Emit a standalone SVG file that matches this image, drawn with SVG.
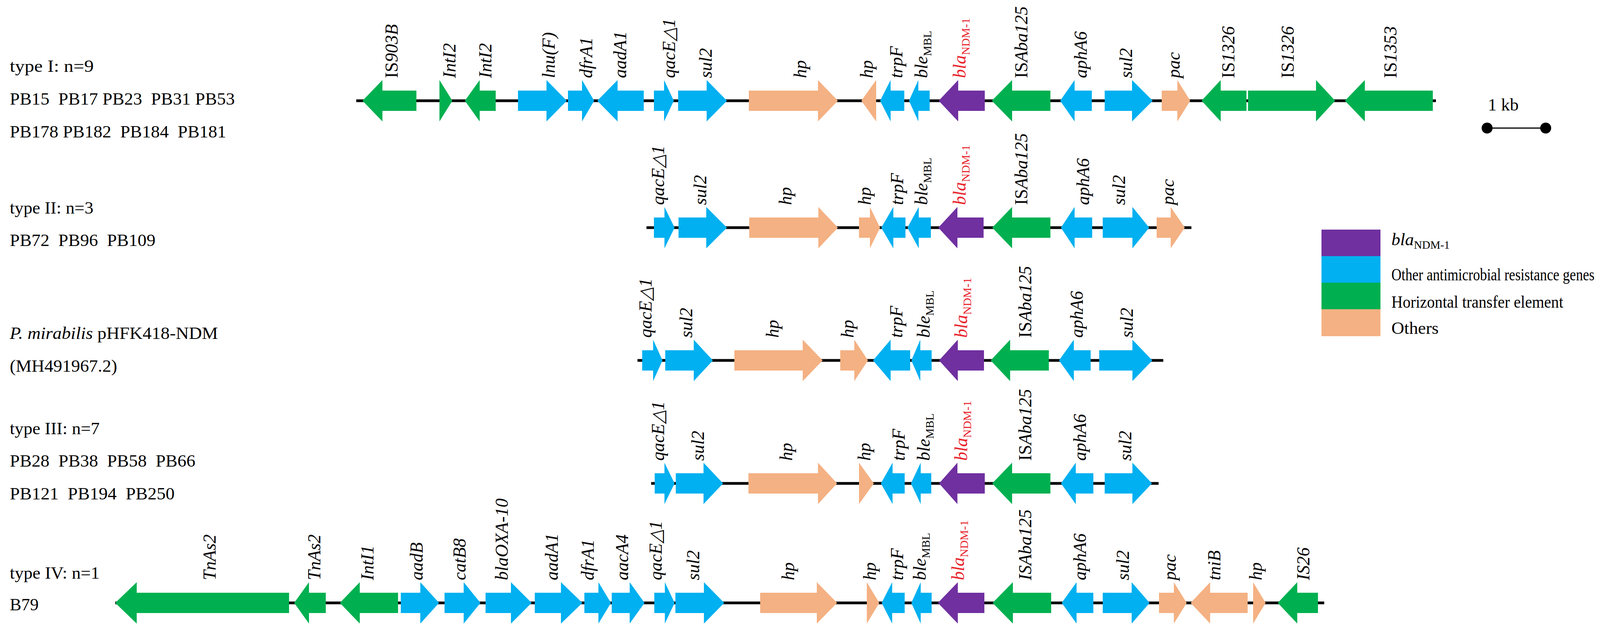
<svg xmlns="http://www.w3.org/2000/svg" width="4258" height="1616" viewBox="0 0 4258 1616">
<style>
.g{fill:#00B050}.b{fill:#00B0F0}.u{fill:#7030A0}.p{fill:#F4B183}
.ln{stroke:#000;stroke-width:7}
.lb{font-family:"Liberation Serif",serif;font-style:italic;font-size:46px;fill:#000}
.red{fill:#E8222A}
.sub{font-style:normal;font-size:30px}
.up{font-style:normal}
.tx{font-family:"Liberation Serif",serif;font-size:45px;fill:#000}
</style>
<rect width="4258" height="1616" fill="#fff"/>
<g id="connectors">
<line class="ln" x1="912" y1="258" x2="3676" y2="258"/>
<line class="ln" x1="1655" y1="583" x2="3050" y2="583"/>
<line class="ln" x1="1632" y1="923" x2="2978" y2="923"/>
<line class="ln" x1="1667" y1="1238" x2="2966" y2="1238"/>
<line class="ln" x1="295" y1="1544" x2="3390" y2="1544"/>
</g>
<g id="row1">
<path class="g" d="M1066,232H979V205L928,258L979,311V284H1066Z"/>
<path class="g" d="M1125,205L1158,258L1125,311Z"/>
<path class="g" d="M1269,232H1228V205L1190,258L1228,311V284H1269Z"/>
<path class="b" d="M1326,232H1399V205L1451,258L1399,311V284H1326Z"/>
<path class="b" d="M1454,232H1490V205L1521,258L1490,311V284H1454Z"/>
<path class="b" d="M1648,232H1581V205L1529,258L1581,311V284H1648Z"/>
<path class="b" d="M1674,232H1700V205L1725,258L1700,311V284H1674Z"/>
<path class="b" d="M1736,232H1809V205L1861,258L1809,311V284H1736Z"/>
<path class="p" d="M1917,232H2094V205L2145,258L2094,311V284H1917Z"/>
<path class="p" d="M2243,205L2205,258L2243,311Z"/>
<path class="b" d="M2315,232H2280V205L2253,258L2280,311V284H2315Z"/>
<path class="b" d="M2380,232H2351V205L2327,258L2351,311V284H2380Z"/>
<path class="u" d="M2521,232H2453V205L2403,258L2453,311V284H2521Z"/>
<path class="g" d="M2689,232H2591V205L2539,258L2591,311V284H2689Z"/>
<path class="b" d="M2795,232H2751V205L2714,258L2751,311V284H2795Z"/>
<path class="b" d="M2828,232H2898V205L2951,258L2898,311V284H2828Z"/>
<path class="p" d="M2974,232H3014V205L3047,258L3014,311V284H2974Z"/>
<path class="g" d="M3191,232H3125V205L3076,258L3125,311V284H3191Z"/>
<path class="g" d="M3195,232H3369V205L3418,258L3369,311V284H3195Z"/>
<path class="g" d="M3668,232H3494V205L3443,258L3494,311V284H3668Z"/>
<text class="lb" transform="translate(1018,200) rotate(-90)"><tspan class="up">IS</tspan>903B</text>
<text class="lb" transform="translate(1166,200) rotate(-90)">IntI2</text>
<text class="lb" transform="translate(1258,200) rotate(-90)">IntI2</text>
<text class="lb" transform="translate(1420,200) rotate(-90)">lnu(F)</text>
<text class="lb" transform="translate(1516,200) rotate(-90)">dfrA1</text>
<text class="lb" transform="translate(1603,200) rotate(-90)">aadA1</text>
<text class="lb" transform="translate(1728,200) rotate(-90)">qacE△1</text>
<text class="lb" transform="translate(1822,200) rotate(-90)">sul2</text>
<text class="lb" transform="translate(2064,200) rotate(-90)">hp</text>
<text class="lb" transform="translate(2234,200) rotate(-90)">hp</text>
<text class="lb" transform="translate(2310,200) rotate(-90)">trpF</text>
<text class="lb" transform="translate(2374,200) rotate(-90)">ble<tspan class="sub" dy="10">MBL</tspan></text>
<text class="lb red" transform="translate(2472,200) rotate(-90)">bla<tspan class="sub" dy="10">NDM-1</tspan></text>
<text class="lb" transform="translate(2630,200) rotate(-90)"><tspan class="up">IS</tspan>Aba125</text>
<text class="lb" transform="translate(2782,200) rotate(-90)">aphA6</text>
<text class="lb" transform="translate(2898,200) rotate(-90)">sul2</text>
<text class="lb" transform="translate(3020,200) rotate(-90)">pac</text>
<text class="lb" transform="translate(3160,200) rotate(-90)"><tspan class="up">IS</tspan>1326</text>
<text class="lb" transform="translate(3312,200) rotate(-90)"><tspan class="up">IS</tspan>1326</text>
<text class="lb" transform="translate(3575,200) rotate(-90)"><tspan class="up">IS</tspan>1353</text>
</g>
<g id="row2">
<path class="b" d="M1674,557H1701V530L1727,583L1701,636V609H1674Z"/>
<path class="b" d="M1737,557H1808V530L1861,583L1808,636V609H1737Z"/>
<path class="p" d="M1918,557H2095V530L2145,583L2095,636V609H1918Z"/>
<path class="p" d="M2199,557H2227V530L2253,583L2227,636V609H2199Z"/>
<path class="b" d="M2318,557H2287V530L2256,583L2287,636V609H2318Z"/>
<path class="b" d="M2383,557H2352V530L2323,583L2352,636V609H2383Z"/>
<path class="u" d="M2518,557H2451V530L2402,583L2451,636V609H2518Z"/>
<path class="g" d="M2689,557H2591V530L2540,583L2591,636V609H2689Z"/>
<path class="b" d="M2796,557H2751V530L2716,583L2751,636V609H2796Z"/>
<path class="b" d="M2823,557H2899V530L2942,583L2899,636V609H2823Z"/>
<path class="p" d="M2961,557H2997V530L3033,583L2997,636V609H2961Z"/>
<text class="lb" transform="translate(1700,525) rotate(-90)">qacE△1</text>
<text class="lb" transform="translate(1808,525) rotate(-90)">sul2</text>
<text class="lb" transform="translate(2026,525) rotate(-90)">hp</text>
<text class="lb" transform="translate(2229,525) rotate(-90)">hp</text>
<text class="lb" transform="translate(2312,525) rotate(-90)">trpF</text>
<text class="lb" transform="translate(2374,525) rotate(-90)">ble<tspan class="sub" dy="10">MBL</tspan></text>
<text class="lb red" transform="translate(2472,525) rotate(-90)">bla<tspan class="sub" dy="10">NDM-1</tspan></text>
<text class="lb" transform="translate(2630,525) rotate(-90)"><tspan class="up">IS</tspan>Aba125</text>
<text class="lb" transform="translate(2788,525) rotate(-90)">aphA6</text>
<text class="lb" transform="translate(2880,525) rotate(-90)">sul2</text>
<text class="lb" transform="translate(3005,525) rotate(-90)">pac</text>
</g>
<g id="row3">
<path class="b" d="M1644,897H1672V870L1696,923L1672,976V949H1644Z"/>
<path class="b" d="M1703,897H1776V870L1825,923L1776,976V949H1703Z"/>
<path class="p" d="M1880,897H2055V870L2106,923L2055,976V949H1880Z"/>
<path class="p" d="M2151,897H2187V870L2222,923L2187,976V949H2151Z"/>
<path class="b" d="M2330,897H2280V870L2235,923L2280,976V949H2330Z"/>
<path class="b" d="M2385,897H2356V870L2333,923L2356,976V949H2385Z"/>
<path class="u" d="M2519,897H2452V870L2404,923L2452,976V949H2519Z"/>
<path class="g" d="M2685,897H2586V870L2536,923L2586,976V949H2685Z"/>
<path class="b" d="M2792,897H2749V870L2711,923L2749,976V949H2792Z"/>
<path class="b" d="M2814,897H2899V870L2950,923L2899,976V949H2814Z"/>
<text class="lb" transform="translate(1668,865) rotate(-90)">qacE△1</text>
<text class="lb" transform="translate(1772,865) rotate(-90)">sul2</text>
<text class="lb" transform="translate(1993,865) rotate(-90)">hp</text>
<text class="lb" transform="translate(2185,865) rotate(-90)">hp</text>
<text class="lb" transform="translate(2310,865) rotate(-90)">trpF</text>
<text class="lb" transform="translate(2380,865) rotate(-90)">ble<tspan class="sub" dy="10">MBL</tspan></text>
<text class="lb red" transform="translate(2476,865) rotate(-90)">bla<tspan class="sub" dy="10">NDM-1</tspan></text>
<text class="lb" transform="translate(2640,865) rotate(-90)"><tspan class="up">IS</tspan>Aba125</text>
<text class="lb" transform="translate(2772,865) rotate(-90)">aphA6</text>
<text class="lb" transform="translate(2900,865) rotate(-90)">sul2</text>
</g>
<g id="row4">
<path class="b" d="M1676,1212H1701V1185L1727,1238L1701,1291V1264H1676Z"/>
<path class="b" d="M1730,1212H1801V1185L1851,1238L1801,1291V1264H1730Z"/>
<path class="p" d="M1916,1212H2094V1185L2143,1238L2094,1291V1264H1916Z"/>
<path class="p" d="M2199,1185L2237,1238L2199,1291Z"/>
<path class="b" d="M2316,1212H2285V1185L2255,1238L2285,1291V1264H2316Z"/>
<path class="b" d="M2384,1212H2357V1185L2332,1238L2357,1291V1264H2384Z"/>
<path class="u" d="M2521,1212H2451V1185L2404,1238L2451,1291V1264H2521Z"/>
<path class="g" d="M2689,1212H2591V1185L2540,1238L2591,1291V1264H2689Z"/>
<path class="b" d="M2799,1212H2754V1185L2716,1238L2754,1291V1264H2799Z"/>
<path class="b" d="M2828,1212H2899V1185L2949,1238L2899,1291V1264H2828Z"/>
<text class="lb" transform="translate(1700,1180) rotate(-90)">qacE△1</text>
<text class="lb" transform="translate(1802,1180) rotate(-90)">sul2</text>
<text class="lb" transform="translate(2028,1180) rotate(-90)">hp</text>
<text class="lb" transform="translate(2228,1180) rotate(-90)">hp</text>
<text class="lb" transform="translate(2316,1180) rotate(-90)">trpF</text>
<text class="lb" transform="translate(2380,1180) rotate(-90)">ble<tspan class="sub" dy="10">MBL</tspan></text>
<text class="lb red" transform="translate(2476,1180) rotate(-90)">bla<tspan class="sub" dy="10">NDM-1</tspan></text>
<text class="lb" transform="translate(2640,1180) rotate(-90)"><tspan class="up">IS</tspan>Aba125</text>
<text class="lb" transform="translate(2780,1180) rotate(-90)">aphA6</text>
<text class="lb" transform="translate(2896,1180) rotate(-90)">sul2</text>
</g>
<g id="row5">
<path class="g" d="M740,1518H350V1491L295,1544L350,1597V1570H740Z"/>
<path class="g" d="M834,1518H791V1491L753,1544L791,1597V1570H834Z"/>
<path class="g" d="M1019,1518H921V1491L870,1544L921,1597V1570H1019Z"/>
<path class="b" d="M1026,1518H1076V1491L1124,1544L1076,1597V1570H1026Z"/>
<path class="b" d="M1138,1518H1187V1491L1230,1544L1187,1597V1570H1138Z"/>
<path class="b" d="M1243,1518H1308V1491L1361,1544L1308,1597V1570H1243Z"/>
<path class="b" d="M1369,1518H1436V1491L1491,1544L1436,1597V1570H1369Z"/>
<path class="b" d="M1496,1518H1532V1491L1564,1544L1532,1597V1570H1496Z"/>
<path class="b" d="M1566,1518H1612V1491L1650,1544L1612,1597V1570H1566Z"/>
<path class="b" d="M1675,1518H1702V1491L1727,1544L1702,1597V1570H1675Z"/>
<path class="b" d="M1729,1518H1802V1491L1854,1544L1802,1597V1570H1729Z"/>
<path class="p" d="M1946,1518H2091V1491L2143,1544L2091,1597V1570H1946Z"/>
<path class="p" d="M2219,1491L2251,1544L2219,1597Z"/>
<path class="b" d="M2316,1518H2284V1491L2257,1544L2284,1597V1570H2316Z"/>
<path class="b" d="M2385,1518H2357V1491L2333,1544L2357,1597V1570H2385Z"/>
<path class="u" d="M2520,1518H2452V1491L2401,1544L2452,1597V1570H2520Z"/>
<path class="g" d="M2691,1518H2593V1491L2541,1544L2593,1597V1570H2691Z"/>
<path class="b" d="M2799,1518H2756V1491L2718,1544L2756,1597V1570H2799Z"/>
<path class="b" d="M2823,1518H2897V1491L2943,1544L2897,1597V1570H2823Z"/>
<path class="p" d="M2967,1518H3005V1491L3038,1544L3005,1597V1570H2967Z"/>
<path class="p" d="M3194,1518H3098V1491L3048,1544L3098,1597V1570H3194Z"/>
<path class="p" d="M3208,1491L3240,1544L3208,1597Z"/>
<path class="g" d="M3374,1518H3321V1491L3271,1544L3321,1597V1570H3374Z"/>
<text class="lb" transform="translate(552,1486) rotate(-90)">TnAs2</text>
<text class="lb" transform="translate(820,1486) rotate(-90)">TnAs2</text>
<text class="lb" transform="translate(956,1486) rotate(-90)">IntI1</text>
<text class="lb" transform="translate(1082,1486) rotate(-90)">aadB</text>
<text class="lb" transform="translate(1192,1486) rotate(-90)">catB8</text>
<text class="lb" transform="translate(1300,1486) rotate(-90)">blaOXA-10</text>
<text class="lb" transform="translate(1428,1486) rotate(-90)">aadA1</text>
<text class="lb" transform="translate(1520,1486) rotate(-90)">dfrA1</text>
<text class="lb" transform="translate(1608,1486) rotate(-90)">aacA4</text>
<text class="lb" transform="translate(1694,1486) rotate(-90)">qacE△1</text>
<text class="lb" transform="translate(1790,1486) rotate(-90)">sul2</text>
<text class="lb" transform="translate(2033,1486) rotate(-90)">hp</text>
<text class="lb" transform="translate(2242,1486) rotate(-90)">hp</text>
<text class="lb" transform="translate(2312,1486) rotate(-90)">trpF</text>
<text class="lb" transform="translate(2370,1486) rotate(-90)">ble<tspan class="sub" dy="10">MBL</tspan></text>
<text class="lb red" transform="translate(2468,1486) rotate(-90)">bla<tspan class="sub" dy="10">NDM-1</tspan></text>
<text class="lb" transform="translate(2640,1486) rotate(-90)">ISAba125</text>
<text class="lb" transform="translate(2780,1486) rotate(-90)">aphA6</text>
<text class="lb" transform="translate(2890,1486) rotate(-90)">sul2</text>
<text class="lb" transform="translate(3010,1486) rotate(-90)">pac</text>
<text class="lb" transform="translate(3124,1486) rotate(-90)">tniB</text>
<text class="lb" transform="translate(3230,1486) rotate(-90)">hp</text>
<text class="lb" transform="translate(3352,1486) rotate(-90)">IS26</text>
</g>
<g id="row-labels">
<text class="tx" x="25" y="184" textLength="215" lengthAdjust="spacingAndGlyphs">type I: n=9</text>
<text class="tx" x="25" y="268" xml:space="preserve" textLength="576" lengthAdjust="spacingAndGlyphs">PB15  PB17 PB23  PB31 PB53</text>
<text class="tx" x="25" y="352" xml:space="preserve" textLength="554" lengthAdjust="spacingAndGlyphs">PB178 PB182  PB184  PB181</text>
<text class="tx" x="25" y="547" textLength="214" lengthAdjust="spacingAndGlyphs">type II: n=3</text>
<text class="tx" x="25" y="630" xml:space="preserve" textLength="373" lengthAdjust="spacingAndGlyphs">PB72  PB96  PB109</text>
<text class="tx" x="25" y="868" textLength="533" lengthAdjust="spacingAndGlyphs"><tspan font-style="italic">P. mirabilis</tspan> pHFK418-NDM</text>
<text class="tx" x="25" y="952" textLength="275" lengthAdjust="spacingAndGlyphs">(MH491967.2)</text>
<text class="tx" x="25" y="1112" textLength="230" lengthAdjust="spacingAndGlyphs">type III: n=7</text>
<text class="tx" x="25" y="1195" xml:space="preserve" textLength="475" lengthAdjust="spacingAndGlyphs">PB28  PB38  PB58  PB66</text>
<text class="tx" x="25" y="1279" xml:space="preserve" textLength="422" lengthAdjust="spacingAndGlyphs">PB121  PB194  PB250</text>
<text class="tx" x="25" y="1482" textLength="230" lengthAdjust="spacingAndGlyphs">type IV: n=1</text>
<text class="tx" x="25" y="1563" textLength="74" lengthAdjust="spacingAndGlyphs">B79</text>
</g>
<g id="scale-bar">
<text class="tx" x="3809" y="283" font-size="60">1 kb</text>
<line x1="3807" y1="328" x2="3957" y2="328" stroke="#000" stroke-width="3"/>
<circle cx="3807" cy="328" r="14"/>
<circle cx="3957" cy="328" r="14"/>
</g>
<g id="legend">
<rect class="u" x="3383" y="588" width="151" height="68"/>
<rect class="b" x="3383" y="656" width="151" height="68"/>
<rect class="g" x="3383" y="724" width="151" height="68"/>
<rect class="p" x="3383" y="792" width="151" height="69"/>
<text class="tx" x="3562" y="628" font-size="44"><tspan font-style="italic">bla</tspan><tspan font-size="29" dy="9">NDM-1</tspan></text>
<text class="tx" x="3562" y="718" font-size="44" textLength="520" lengthAdjust="spacingAndGlyphs">Other antimicrobial resistance genes</text>
<text class="tx" x="3562" y="788" font-size="44" textLength="440" lengthAdjust="spacingAndGlyphs">Horizontal transfer element</text>
<text class="tx" x="3562" y="855" font-size="44" textLength="121" lengthAdjust="spacingAndGlyphs">Others</text>
</g>
</svg>
